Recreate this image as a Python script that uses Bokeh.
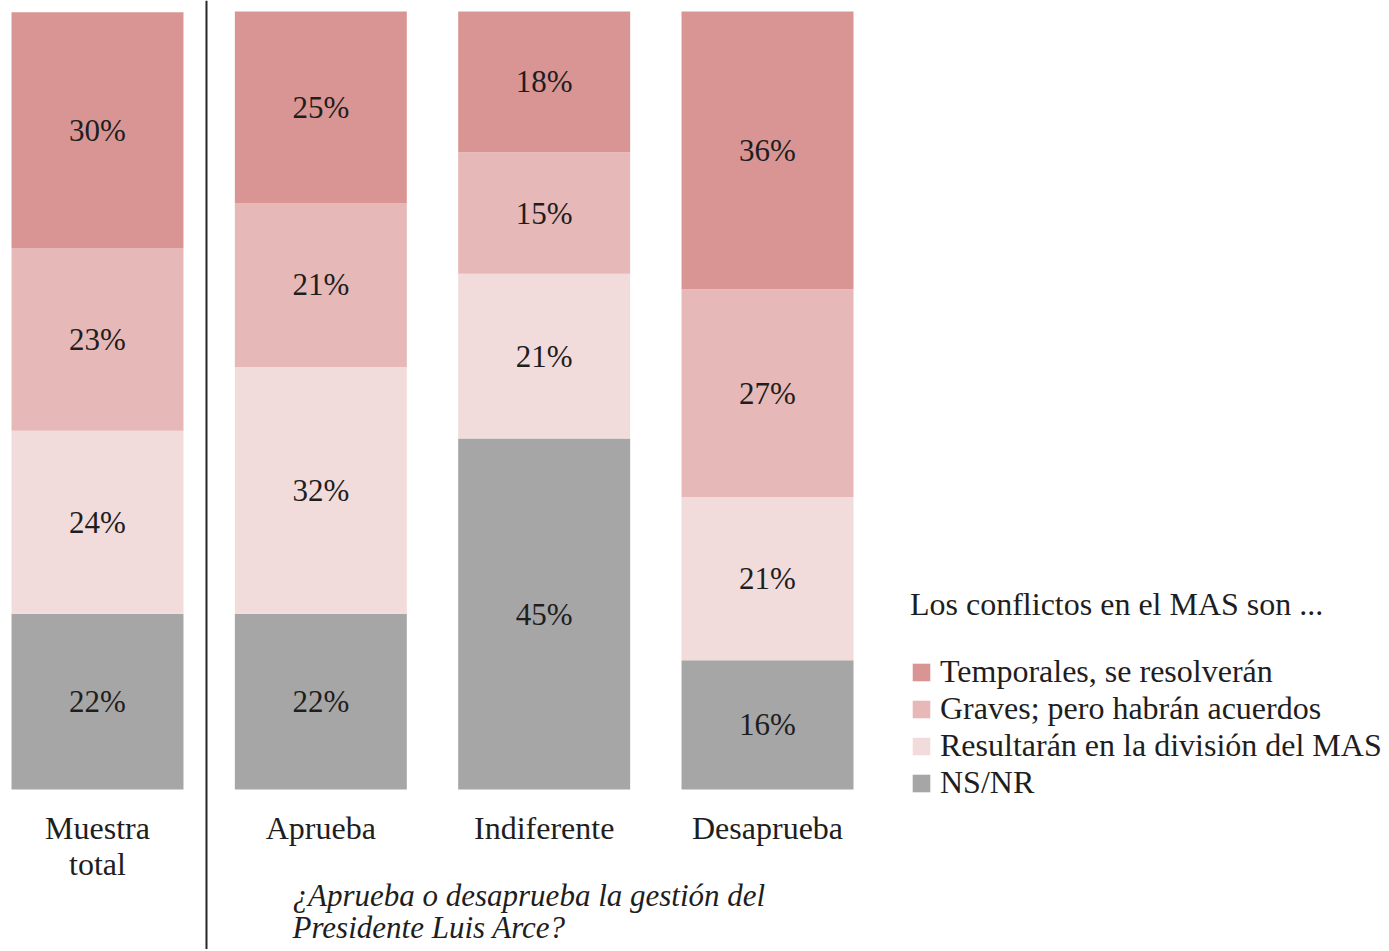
from bokeh.plotting import figure
from bokeh.models import ColumnDataSource, Range1d, Legend, LegendItem, Span
from bokeh.core.properties import value
from bokeh.embed import file_html
from bokeh.resources import INLINE

# ---- data ----
categories = ["Muestra\ntotal", "Aprueba", "Indiferente", "Desaprueba"]
series = ["NS/NR", "Resultarán en la división del MAS",
          "Graves; pero habrán acuerdos", "Temporales, se resolverán"]
ns_nr = [22.6, 22.6, 45.1, 16.6]
resultaran = [23.5, 31.7, 21.2, 21.0]
graves = [23.5, 21.1, 15.6, 26.7]
temporales = [30.3, 24.6, 18.1, 35.7]
ns_nr_lbl = ["22%", "22%", "45%", "16%"]
resultaran_lbl = ["24%", "32%", "21%", "21%"]
graves_lbl = ["23%", "21%", "15%", "27%"]
temporales_lbl = ["30%", "25%", "18%", "36%"]
colors = ["#a6a6a6", "#f2dcdb", "#e6b8b7", "#d99594"]
legend_title = "Los conflictos en el MAS son ..."
question = "¿Aprueba o desaprueba la gestión del\nPresidente Luis Arce?"

FONT = "Liberation Serif"
TXT = "#1e1e1e"

W, H = 1385, 949
p = figure(width=W, height=H, output_backend="svg", toolbar_location=None,
           x_range=Range1d(-0.4343, 5.767), y_range=Range1d(-20.566, 101.414),
           x_axis_location=None, y_axis_location=None, min_border=0,
           outline_line_color=None)
p.grid.visible = False

xs = list(range(len(categories)))
keys = ["ns", "res", "gra", "tem"]
src = ColumnDataSource(dict(x=xs, ns=ns_nr, res=resultaran, gra=graves, tem=temporales))
rends = p.vbar_stack(keys, x="x", width=0.77, color=colors, line_color=None, source=src)

# percentage labels at segment centres
vals = [ns_nr, resultaran, graves, temporales]
lbls = [ns_nr_lbl, resultaran_lbl, graves_lbl, temporales_lbl]
lx, ly, lt = [], [], []
for i in xs:
    base = 0.0
    for s in range(4):
        v = vals[s][i]
        lx.append(i)
        ly.append(base + v / 2)
        lt.append(lbls[s][i])
        base += v
p.text(x=lx, y=ly, text=lt, text_font=value(FONT), text_font_size="31px",
       text_align="center", text_baseline="middle", text_color=TXT)

# category labels
p.text(x=xs, y=[-2.6] * 4, text=categories, text_font=value(FONT), text_font_size="32px",
       text_align="center", text_baseline="top", text_color=TXT, text_line_height=1.0)

# question (italic)
p.text(x=[0.873], y=[-11.4], text=[question], text_font=value(FONT), text_font_size="31px",
       text_font_style="italic", text_align="left", text_baseline="top", text_color=TXT,
       text_line_height=0.92)

# separator line
p.add_layout(Span(location=0.488, dimension="height", line_color="#262626", line_width=2))

items = [LegendItem(label=series[k], renderers=[rends[k]]) for k in [3, 2, 1, 0]]
legend = Legend(items=items, location=(910, 148), title=legend_title,
                title_text_font=FONT, title_text_font_size="32px", title_text_font_style="normal",
                title_text_color=TXT, title_standoff=30,
                label_text_font=FONT, label_text_font_size="32px", label_text_color=TXT,
                label_height=37, label_standoff=8, glyph_width=22, glyph_height=22,
                spacing=0, padding=0, margin=0, border_line_color=None,
                background_fill_alpha=0)
p.add_layout(legend, "center")

open("out.html", "w").write(file_html(p, INLINE))
